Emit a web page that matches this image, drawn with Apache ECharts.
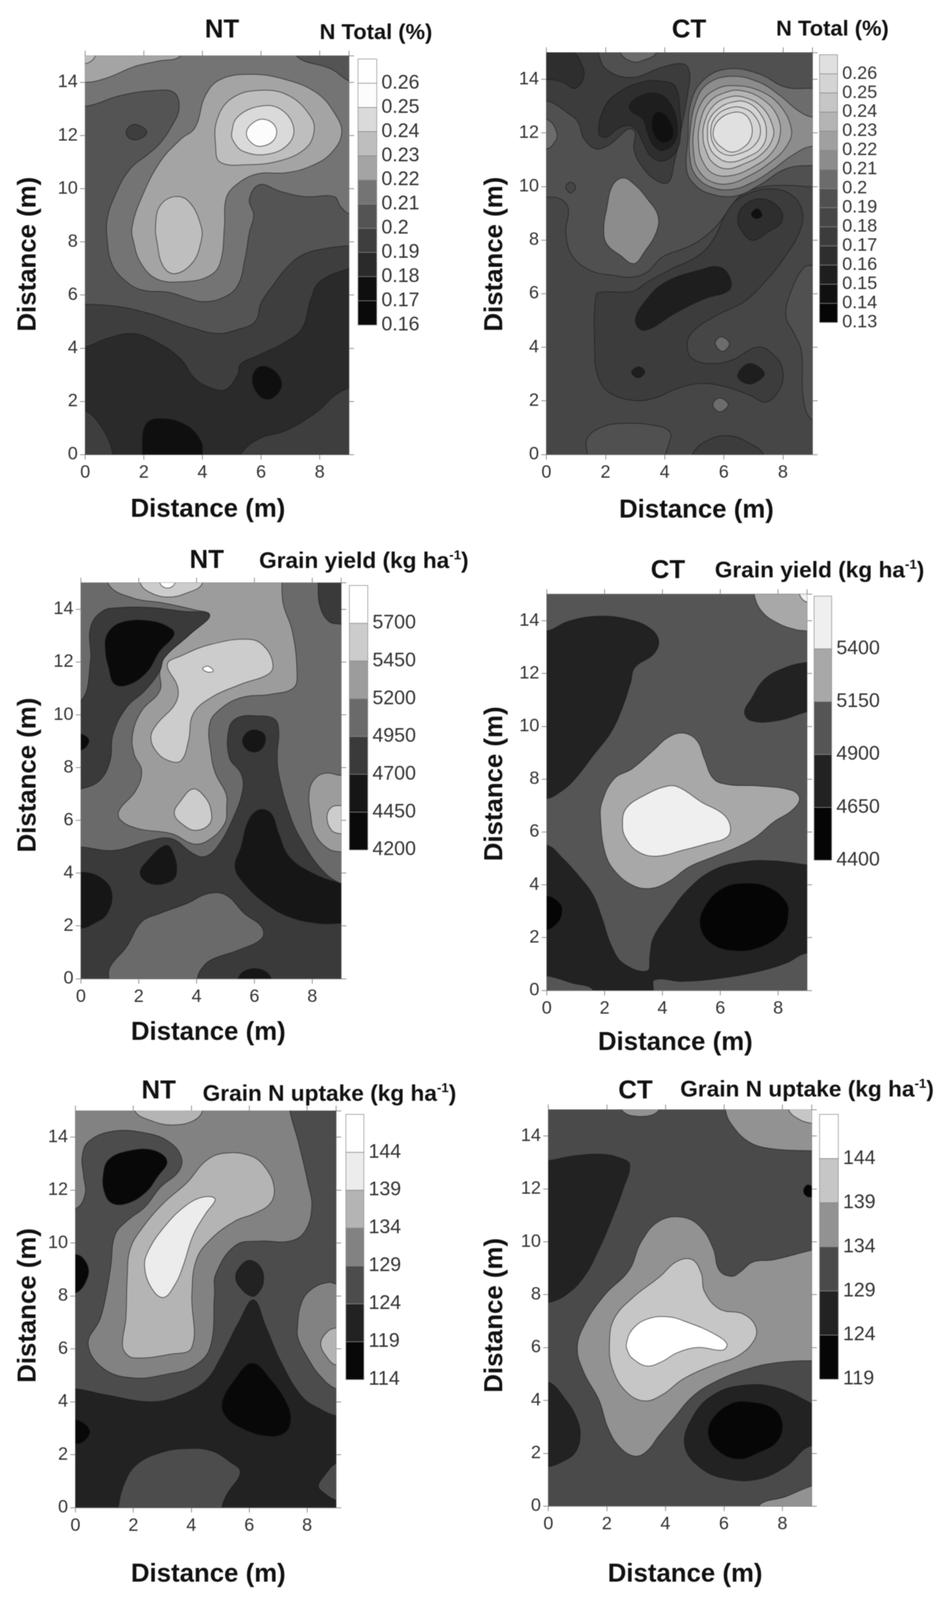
<!DOCTYPE html>
<html>
<head>
<meta charset="utf-8">
<title>Contour maps</title>
<style>
  html, body { margin: 0; padding: 0; background: #fff; overflow: hidden; }
  #chart { width: 2418px; height: 100vh; filter: blur(0.8px); }
</style>
<script src="https://cdn.jsdelivr.net/npm/echarts@6/dist/echarts.min.js"></script>
</head>
<body>
<div id="chart"></div>
<script>
// colour bar tick labels, bottom to top (the last one is the unlabelled top end)
const nTotalNtLabels = ['0.16', '0.17', '0.18', '0.19', '0.2', '0.21', '0.22', '0.23', '0.24', '0.25', '0.26', ''];
const nTotalCtLabels = ['0.13', '0.14', '0.15', '0.16', '0.17', '0.18', '0.19', '0.2', '0.21', '0.22', '0.23', '0.24', '0.25', '0.26', ''];
const yieldNtLabels = ['4200', '4450', '4700', '4950', '5200', '5450', '5700', ''];
const yieldCtLabels = ['4400', '4650', '4900', '5150', '5400', ''];
const uptakeNtLabels = ['114', '119', '124', '129', '134', '139', '144', ''];
const uptakeCtLabels = ['119', '124', '129', '134', '139', '144', ''];

// contours: [band index, outline in metres]. painted in order, later ones on top.
// outlines run past the 0-9 / 0-15 frame where the region leaves the plot
const frame = [[-2, -2], [-2, 17], [11, 17], [11, -2]];

const nTotalNtContours = [
  [4, frame],
  [5, [[-1, 13.2], [0, 13.1], [1.2, 13.5], [2.45, 13.7], [3.05, 13.6], [3.2, 13], [2.95, 12.35], [2.55, 11.7], [2.15, 11.3], [1.5, 10.7], [1, 9.7], [0.75, 8.85], [0.75, 8.1], [0.9, 7.2], [1.3, 6.6], [1.9, 6.2], [2.85, 6.1], [3.45, 5.9], [4, 5.75], [4.7, 5.9], [5.2, 6.35], [5.45, 7.35], [5.6, 8.35], [5.75, 9], [5.6, 9.6], [5.95, 10.15], [6.65, 9.9], [7.5, 9.7], [8.5, 9.7], [8.7, 9.35], [9, 9.05], [10, 8.6], [10, 16], [-1, 16]]],
  [6, [[-1, 14.1], [0, 14], [0.7, 14.15], [1.7, 14.6], [2.5, 14.8], [3.25, 15], [3.5, 16], [-1, 16]]],
  [7, [[-1, 14.7], [0, 14.7], [0.35, 15], [0.5, 16], [-1, 16]]],
  [4, [[7.2, 15], [8.4, 14.5], [9, 14.05], [10, 13.7], [10, 16], [7, 16]]],
  [3, [[1.4, 12.15], [1.6, 12.4], [1.9, 12.35], [2.1, 12.1], [1.8, 11.85], [1.5, 11.9]]],
  [6, [[1.6, 8.55], [1.9, 9.6], [2.55, 11], [3.25, 11.85], [3.75, 12.3], [4.1, 13.5], [4.6, 14.1], [5.65, 14.3], [6.85, 14.1], [7.9, 13.6], [8.5, 12.85], [8.75, 12.1], [8.4, 11.35], [7.7, 10.85], [6.85, 10.6], [5.85, 10.55], [5.1, 10.1], [4.8, 9.6], [4.75, 8.6], [4.6, 7.2], [4.2, 6.7], [3.35, 6.5], [2.45, 6.6], [1.9, 7.2], [1.65, 8]]],
  [7, [[2.4, 8.6], [2.55, 9.35], [3.05, 9.7], [3.55, 9.5], [3.95, 8.6], [3.95, 8], [3.65, 7.2], [3.05, 6.8], [2.65, 7.1], [2.45, 8]]],
  [7, [[4.45, 11.6], [4.5, 12.6], [5, 13.4], [5.95, 13.7], [6.95, 13.5], [7.7, 12.7], [7.8, 12.1], [7.5, 11.5], [6.65, 11.05], [5.5, 10.9], [4.6, 11]]],
  [8, [[5, 12.1], [5.2, 12.7], [5.95, 13.1], [6.65, 13], [7.1, 12.35], [6.95, 11.7], [6.25, 11.3], [5.4, 11.4], [5.05, 11.8]]],
  [9, [[5.5, 12.1], [5.75, 12.5], [6.15, 12.6], [6.5, 12.3], [6.45, 11.85], [6.05, 11.6], [5.7, 11.7]]],
  [3, [[-1, 5.6], [0, 5.65], [1.2, 5.55], [2.2, 5.3], [3, 5], [3.7, 4.75], [4.5, 4.55], [5.2, 4.7], [5.8, 5], [6, 5.7], [6.4, 6.35], [6.85, 7], [7.4, 7.5], [8.2, 7.75], [9, 7.85], [10, 7.9], [10, -1], [-1, -1]]],
  [2, [[-1, 4.05], [0, 4.05], [0.7, 4.35], [1.6, 4.55], [2.4, 4.25], [3.25, 3.6], [3.75, 2.85], [4.3, 2.5], [4.8, 2.45], [5.2, 3], [5.3, 3.4], [5.95, 3.75], [6.85, 4.25], [7.4, 4.75], [7.7, 5.85], [8, 6.5], [9, 7], [10, 7.3], [10, -1], [-1, -1]]],
  [3, [[-1, 1.9], [0, 1.65], [0.6, 0.95], [0.95, 0], [1, -1], [-1, -1]]],
  [3, [[5.3, 0], [5.95, 0.6], [6.85, 0.9], [7.9, 1.6], [8.5, 2.2], [9, 2.5], [10, 2.8], [10, -1], [5, -1]]],
  [1, [[5.7, 2.85], [5.95, 3.3], [6.45, 3.15], [6.7, 2.6], [6.35, 2.1], [5.95, 2.2]]],
  [1, [[1.95, -1], [1.95, 0], [2.05, 1.1], [2.55, 1.35], [3.45, 1.1], [3.95, 0.5], [4, 0], [4, -1]]]
];

const nTotalCtContours = [
  [5, frame],
  [6, [[-1, 9.6], [0, 9.6], [0.46, 9.54], [0.74, 9.17], [0.66, 8.3], [0.87, 7.43], [1.48, 6.87], [2.29, 6.68], [2.9, 6.62], [3.41, 6.81], [3.92, 7.37], [4.64, 7.68], [5.1, 7.93], [5.66, 8.42], [6.12, 9.04], [6.57, 9.66], [7.29, 9.98], [8.1, 10.04], [9, 9.98], [10, 9.9], [10, 16], [-1, 16]]],
  [4, [[-1, 13.2], [0, 13.2], [0.76, 12.71], [1.07, 12.4], [1.27, 11.78], [1.68, 11.4], [2.09, 11.53], [2.5, 11.9], [2.8, 12.15], [3, 12.02], [2.96, 11.4], [3.21, 10.78], [3.72, 10.22], [4.13, 10.16], [4.33, 10.91], [4.54, 12.02], [4.79, 13.52], [4.84, 14.26], [4.64, 14.57], [3.92, 14.45], [2.91, 14.07], [2.09, 14.32], [1.78, 14.9], [1.7, 16], [-1, 16]]],
  [7, [[2.5, 15], [2.9, 14.66], [3.31, 14.72], [3.72, 15], [3.8, 16], [2.4, 16]]],
  [3, [[1.78, 11.96], [1.89, 12.77], [2.29, 13.39], [3.21, 13.89], [4.03, 13.91], [4.38, 13.7], [4.52, 12.77], [4.54, 12.02], [4.43, 11.4], [4.03, 10.97], [3.57, 11.09], [3.26, 11.65], [3.06, 12.09], [2.8, 12.27], [2.4, 12.15], [2.04, 11.84]]],
  [2, [[2.8, 13.02], [3.21, 13.39], [3.82, 13.45], [4.23, 13.02], [4.43, 12.27], [4.33, 11.65], [3.92, 11.34], [3.62, 11.53], [3.41, 12.02], [3.26, 12.52], [2.91, 12.77]]],
  [1, [[3.57, 12.4], [3.72, 12.77], [4.03, 12.65], [4.28, 12.15], [4.23, 11.78], [3.92, 11.65], [3.67, 11.9]]],
  [3, [[-1, 14], [0, 14], [0.56, 13.89], [0.97, 13.66], [1.27, 14.14], [1.12, 14.76], [0.97, 15], [1, 16], [-1, 16]]],
  [7, [[-1, 12.4], [0, 12.5], [0.36, 11.96], [0.2, 11.53], [0, 11.4], [-1, 11.4]]],
  [7, [[4.74, 10.66], [4.79, 11.78], [4.89, 13.14], [5.35, 14.01], [6.17, 14.39], [7.19, 14.2], [8.1, 13.7], [9, 13.66], [10, 13.6], [10, 10.7], [9, 10.78], [8.1, 10.66], [7.19, 10.04], [6.37, 9.64], [5.45, 9.76], [4.94, 10.16]]],
  [8, [[4.86, 11.03], [4.86, 12.02], [5.05, 13.14], [5.45, 13.83], [6.27, 14.11], [7.19, 13.89], [7.9, 13.39], [8.51, 12.83], [9, 12.58], [10, 12.45], [10, 11.3], [9, 11.5], [8.31, 11.16], [7.7, 10.66], [6.98, 10.16], [6.27, 9.89], [5.56, 9.98], [5.05, 10.41]]],
  [9, [[4.99, 11.16], [4.99, 12.15], [5.25, 13.14], [5.76, 13.64], [6.37, 13.76], [7.19, 13.58], [7.9, 13.02], [8.29, 12.09], [8.1, 11.47], [7.59, 10.91], [6.88, 10.41], [6.17, 10.1], [5.56, 10.19], [5.15, 10.6]]],
  [10, [[5.15, 11.53], [5.2, 12.4], [5.5, 13.14], [6.01, 13.49], [6.57, 13.58], [7.29, 13.27], [7.8, 12.65], [7.9, 11.9], [7.59, 11.22], [6.98, 10.72], [6.27, 10.41], [5.66, 10.47], [5.3, 10.91]]],
  [11, [[5.3, 11.78], [5.35, 12.4], [5.66, 13.02], [6.17, 13.33], [6.68, 13.33], [7.29, 12.96], [7.65, 12.27], [7.65, 11.78], [7.29, 11.22], [6.68, 10.84], [6.07, 10.66], [5.61, 10.91], [5.4, 11.34]]],
  [12, [[5.45, 11.96], [5.5, 12.46], [5.81, 12.89], [6.27, 13.14], [6.78, 13.14], [7.24, 12.71], [7.44, 12.09], [7.29, 11.47], [6.78, 11.09], [6.17, 10.91], [5.71, 11.16], [5.5, 11.53]]],
  [12, [[5.56, 12.02], [5.71, 12.58], [6.17, 12.92], [6.68, 12.92], [7.08, 12.58], [7.24, 12.02], [7.03, 11.53], [6.52, 11.22], [6.07, 11.18], [5.71, 11.47]]],
  [13, [[5.64, 12.02], [5.81, 12.46], [6.27, 12.75], [6.68, 12.71], [6.93, 12.33], [6.93, 11.84], [6.68, 11.47], [6.27, 11.28], [5.91, 11.47], [5.71, 11.71]]],
  [4, [[1.63, 4.07], [1.68, 5.94], [1.89, 6.06], [2.91, 6.09], [3.41, 6.43], [4.13, 6.87], [5.15, 7.43], [5.66, 8.05], [6.17, 9.17], [6.68, 9.66], [7.59, 9.91], [8.31, 9.66], [8.66, 9.04], [8.56, 8.3], [8.1, 7.43], [7.49, 6.56], [6.68, 5.69], [5.76, 5.19], [4.94, 4.57], [4.76, 4.07], [4.94, 3.58], [5.56, 3.39], [6.27, 3.52], [7.19, 4.01], [7.8, 3.58], [8, 3.08], [7.9, 2.46], [7.44, 1.96], [6.88, 2.21], [6.07, 2.52], [5.25, 2.65], [4.43, 2.46], [3.62, 2.09], [2.91, 2.02], [2.09, 2.34], [1.73, 2.96]]],
  [2, [[3.01, 5.01], [3.41, 5.81], [4.03, 6.43], [5.15, 6.87], [5.86, 6.99], [6.22, 6.56], [6.17, 6.12], [5.35, 5.81], [4.43, 5.32], [3.31, 4.63]]],
  [3, [[6.47, 8.8], [6.68, 9.29], [7.29, 9.54], [7.9, 9.17], [7.95, 8.67], [7.49, 8.3], [6.98, 7.99], [6.63, 8.3]]],
  [1, [[6.93, 8.98], [7.14, 9.17], [7.29, 8.92], [7.08, 8.8]]],
  [2, [[2.88, 3.06], [3.11, 3.27], [3.33, 3.08], [3.11, 2.86]]],
  [2, [[6.47, 2.98], [6.88, 3.39], [7.37, 3.02], [6.98, 2.65], [6.63, 2.71]]],
  [7, [[5.71, 4.14], [5.91, 4.39], [6.19, 4.14], [5.96, 3.85]]],
  [7, [[5.63, 1.86], [5.86, 2.11], [6.15, 1.86], [5.86, 1.59]]],
  [6, [[9, 7.06], [8.72, 6.99], [8.31, 6.19], [8.1, 5.19], [8.41, 4.45], [8.63, 3.83], [8.69, 2.09], [9, 1.28], [10, 1], [10, 7.2]]],
  [6, [[1.38, -1], [1.38, 0], [1.38, 0.6], [1.89, 1.03], [2.6, 1.16], [3.62, 1.09], [4.18, 0.84], [4.13, 0.35], [4.03, 0], [4, -1]]],
  [4, [[4.94, 0], [5.45, 0.53], [6.17, 0.7], [6.78, 0.47], [7.34, 0], [7.5, -1], [4.8, -1]]],
  [5, [[0.66, 9.98], [0.82, 10.16], [0.99, 9.98], [0.82, 9.76]]],
  [8, [[1.94, 8.42], [2.04, 9.17], [2.24, 10.04], [2.6, 10.32], [3.01, 10.04], [3.41, 9.54], [3.77, 8.92], [3.72, 8.3], [3.31, 7.55], [2.96, 7.12], [2.5, 7.43], [2.04, 7.86]]]
];

const yieldNtContours = [
  [3, frame],
  [4, [[1.32, 6.37], [1.9, 7.13], [2.1, 7.88], [1.84, 8.51], [1.79, 9.27], [2.1, 10.15], [2.73, 10.91], [2.73, 11.66], [2.89, 12.17], [3.77, 13.05], [4.45, 13.78], [3.88, 13.99], [2.83, 14.24], [1.79, 14.43], [0.96, 14.94], [0.9, 16], [6.95, 16], [6.95, 15], [7, 14.18], [7.31, 13.17], [7.47, 11.66], [7.36, 11.03], [6.58, 10.78], [5.54, 10.65], [4.81, 10.21], [4.45, 9.65], [4.5, 8.51], [4.66, 7.76], [5.02, 7], [5.04, 6.5], [4.97, 5.87], [4.4, 5.24], [3.88, 5.11], [3.15, 5.49], [2, 5.68], [1.38, 6]]],
  [2, [[-1, 10.5], [0, 10.53], [0.33, 12.04], [0.33, 13.3], [0.75, 13.93], [1.38, 14.06], [2.42, 14.06], [3.46, 13.93], [4.45, 13.78], [3.77, 13.05], [2.89, 12.17], [2.73, 11.66], [2.21, 10.91], [1.58, 10.28], [1.11, 9.27], [1.01, 8.26], [0.65, 7.51], [0, 7.19], [-1, 7]]],
  [0, [[0.85, 12.42], [0.91, 13.05], [1.38, 13.49], [2.42, 13.55], [3.15, 13.24], [3.2, 12.98], [2.73, 12.42], [2.31, 11.66], [1.69, 11.16], [1.17, 11.16], [0.96, 11.79]]],
  [0, [[-1, 9.3], [0, 9.27], [0.28, 9.02], [0, 8.66], [-1, 8.6]]],
  [2, [[-1, 5], [0, 4.99], [1.17, 4.86], [2.42, 5.24], [3.15, 5.3], [3.88, 4.74], [4.29, 4.63], [4.71, 4.99], [5.23, 6], [5.59, 7.13], [5.54, 7.76], [5.13, 8.39], [5.13, 9.52], [5.44, 9.9], [6.06, 9.96], [6.69, 9.84], [6.84, 9.4], [6.79, 8.51], [6.84, 7.76], [7.21, 6.25], [7.63, 5.24], [8.35, 4.11], [9, 3.6], [10, 3.3], [10, -1], [-1, -1]]],
  [1, [[5.59, 9.02], [5.85, 9.4], [6.27, 9.33], [6.38, 9.02], [6.17, 8.64], [5.8, 8.64]]],
  [1, [[5.33, 4.23], [5.54, 4.99], [5.8, 6], [6.17, 6.4], [6.58, 6.25], [6.84, 5.49], [7.21, 4.61], [8.04, 3.98], [9, 3.6], [10, 3.3], [10, 2], [9, 2.09], [8.25, 2.09], [7.21, 2.34], [6.38, 2.85], [5.65, 3.6]]],
  [1, [[2.05, 3.98], [2.31, 4.48], [2.94, 5.05], [3.2, 4.74], [3.3, 3.98], [3.04, 3.66], [2.42, 3.6]]],
  [1, [[-1, 4], [0, 4.04], [0.65, 3.85], [1.06, 3.29], [0.91, 2.47], [0.44, 2.09], [0, 1.9], [-1, 1.9]]],
  [1, [[5.4, -1], [5.44, 0], [5.75, 0.33], [6.27, 0.33], [6.58, 0], [6.7, -1]]],
  [3, [[1, -1], [0.96, 0], [1.01, 0.45], [1.58, 1.21], [2.1, 2.15], [2.73, 2.47], [3.67, 2.85], [4.4, 3.22], [5.02, 3.16], [5.65, 2.47], [6.25, 1.96], [6.25, 1.52], [5.44, 1.08], [4.5, 0.71], [4.14, 0.33], [4.03, 0], [4, -1]]],
  [2, [[8.12, 16], [8.2, 15], [8.25, 14.18], [8.56, 13.55], [9, 13.43], [10, 13.3], [10, 16]]],
  [5, [[2.05, 15], [2.42, 14.62], [3.04, 14.46], [3.67, 14.62], [4.19, 14.96], [4.3, 16], [2, 16]]],
  [6, [[2.73, 15], [3, 14.8], [3.25, 15], [3.3, 16], [2.7, 16]]],
  [4, [[7.89, 7], [8.04, 7.51], [8.41, 7.78], [9, 7.7], [10, 7.6], [10, 4.7], [9, 4.8], [8.56, 4.92], [8.09, 5.49], [7.94, 6.25]]],
  [5, [[8.51, 6.12], [8.67, 6.5], [9, 6.56], [10, 6.6], [10, 5.4], [9, 5.49], [8.67, 5.62]]],
  [5, [[2.42, 9.14], [2.63, 9.65], [3.25, 10.4], [3.35, 11.03], [2.99, 11.91], [3.46, 12.23], [4.5, 12.67], [5.85, 12.86], [6.38, 12.54], [6.64, 11.91], [6.48, 11.54], [5.54, 11.16], [4.5, 10.65], [3.88, 10.03], [3.72, 9.02], [3.46, 8.26], [3.04, 8.26], [2.63, 8.58]]],
  [6, [[4.21, 11.75], [4.4, 11.84], [4.58, 11.66], [4.38, 11.62]]],
  [5, [[3.23, 6.25], [3.46, 6.75], [3.88, 7.19], [4.29, 6.88], [4.5, 6.37], [4.45, 5.87], [3.98, 5.62], [3.56, 5.81]]]
];

const yieldCtContours = [
  [2, frame],
  [1, [[-1, 13.6], [0, 13.61], [0.76, 13.98], [1.8, 14.17], [2.85, 14.04], [3.58, 13.7], [3.87, 13.23], [3.69, 12.73], [3.05, 12.23], [2.9, 11.66], [2.64, 10.78], [2.22, 9.77], [1.6, 8.89], [0.97, 8], [0.45, 7.5], [0, 7.26], [-1, 7.2]]],
  [1, [[9, 12.42], [8.27, 12.23], [7.54, 11.79], [7.07, 11.03], [6.84, 10.53], [7.07, 10.21], [7.96, 10.21], [9, 10.55], [10, 10.8], [10, 12.5]]],
  [1, [[-1, 5.5], [0, 5.5], [0.55, 5], [1.18, 4.24], [1.6, 3.61], [1.91, 2.74], [2.22, 1.73], [2.64, 1.03], [3.47, 0.74], [3.57, 1.35], [3.68, 1.98], [4.2, 2.86], [4.93, 3.87], [5.77, 4.56], [6.81, 4.87], [7.85, 4.9], [9, 4.75], [10, 4.6], [10, 1.3], [9, 1.41], [8.27, 1.03], [7.33, 0.72], [6.08, 0.47], [4.72, 0.34], [3.73, 0.4], [3.68, 0], [3.6, -1], [1.5, -1], [1.6, 0], [0.87, 0.28], [0, 0.55], [-1, 0.6]]],
  [0, [[5.3, 2.48], [5.5, 3.23], [6.08, 3.86], [6.81, 4.05], [7.64, 3.92], [8.27, 3.36], [8.35, 2.86], [8.17, 2.23], [7.44, 1.66], [6.5, 1.5], [5.67, 1.79]]],
  [0, [[-1, 3.5], [0, 3.58], [0.45, 3.3], [0.53, 2.98], [0.4, 2.6], [0, 2.29], [-1, 2.2]]],
  [3, [[7.17, 15], [7.43, 14.36], [7.96, 13.92], [8.58, 13.67], [9, 13.61], [10, 13.5], [10, 16], [7.1, 16]]],
  [4, [[8.74, 15], [9, 14.7], [10, 14.5], [10, 16], [8.7, 16]]],
  [3, [[1.86, 6.5], [1.91, 7.13], [2.33, 8.01], [2.95, 8.39], [3.68, 9.08], [4.2, 9.58], [4.72, 9.74], [5.19, 9.46], [5.45, 8.77], [5.77, 8.01], [6.29, 7.79], [7.33, 7.74], [8.48, 7.57], [8.74, 7.26], [8.48, 6.82], [7.85, 6.38], [7.23, 5.81], [6.6, 5.43], [5.77, 5.06], [4.93, 4.68], [4.2, 4.11], [3.58, 3.86], [2.95, 3.99], [2.33, 4.55], [2.01, 5.25]]],
  [4, [[2.62, 6.25], [2.74, 6.88], [3.37, 7.38], [4.2, 7.74], [4.62, 7.66], [5.35, 7.13], [6.08, 6.69], [6.34, 6.25], [6.24, 5.81], [5.56, 5.56], [4.72, 5.31], [3.79, 5.08], [3.16, 5.25], [2.74, 5.75]]]
];

const uptakeNtContours = [
  [2, frame],
  [3, [[-1, 11.3], [0, 11.3], [0.33, 11.83], [0.28, 12.56], [0.23, 13.23], [0.44, 13.82], [1.27, 14.22], [2.41, 14.16], [3.24, 13.82], [3.66, 13.23], [3.56, 12.7], [2.93, 12.1], [2.41, 11.37], [1.79, 10.84], [1.37, 10.31], [1.22, 9.11], [1.06, 8.05], [0.85, 7.12], [0.44, 6.19], [0.96, 5.26], [2, 4.9], [3.24, 5.06], [4.07, 5.33], [4.65, 6.06], [4.8, 8.05], [4.85, 8.84], [5.53, 9.91], [6.36, 10.07], [7.4, 10.07], [7.92, 10.44], [8.16, 11.37], [8.02, 12.3], [7.71, 13.76], [7.4, 15], [7.3, 16], [-1, 16]]],
  [4, [[1.63, 6.32], [1.74, 7.12], [1.79, 8.71], [1.89, 9.77], [2.31, 10.57], [3.04, 11.5], [3.87, 12.3], [4.49, 13.09], [5.11, 13.39], [6.05, 13.29], [6.57, 12.83], [6.86, 12.1], [6.73, 11.5], [6.15, 11.1], [5.53, 10.84], [4.7, 10.17], [4.18, 9.38], [4.02, 8.05], [4.02, 6.06], [3.24, 5.79], [2, 5.66], [1.68, 5.92]]],
  [5, [[2.39, 9.11], [2.52, 9.71], [3.04, 10.57], [3.76, 11.37], [4.39, 11.73], [4.82, 11.66], [4.49, 11.1], [4.07, 10.31], [3.71, 9.11], [3.45, 8.45], [3.04, 7.94], [2.62, 8.31]]],
  [0, [[0.96, 12.56], [1.16, 13.16], [1.89, 13.49], [2.72, 13.49], [3.16, 13.09], [2.83, 12.5], [2.41, 11.9], [1.79, 11.5], [1.27, 11.5], [1.01, 11.9]]],
  [4, [[2.05, 15], [2.62, 14.62], [3.35, 14.46], [4.07, 14.62], [4.39, 15], [4.5, 16], [2, 16]]],
  [0, [[-1, 9.4], [0, 9.57], [0.38, 9.24], [0.42, 8.71], [0, 8.11], [-1, 8.1]]],
  [1, [[-1, 4.5], [0, 4.49], [1.06, 4.26], [2.62, 4], [3.66, 4.26], [4.49, 4.79], [5.01, 5.66], [5.63, 6.99], [6.15, 7.85], [6.57, 6.85], [7.09, 5.52], [7.82, 4.2], [8.44, 3.73], [9, 3.47], [10, 3.3], [10, -1], [-1, -1]]],
  [1, [[5.53, 8.71], [5.74, 9.18], [6.05, 9.34], [6.41, 9.05], [6.49, 8.52], [6.31, 8.11], [6.1, 7.98], [5.74, 8.25]]],
  [0, [[5.06, 3.93], [5.43, 4.73], [6.1, 5.46], [6.78, 4.79], [7.3, 3.93], [7.43, 3.27], [7.19, 2.8], [6.57, 2.71], [5.74, 3], [5.22, 3.4]]],
  [0, [[-1, 3.4], [0, 3.33], [0.49, 2.93], [0.33, 2.54], [0, 2.4], [-1, 2.4]]],
  [2, [[1.48, 0], [1.68, 0.88], [2.1, 1.61], [2.93, 2.07], [3.87, 2.23], [4.7, 2.14], [5.32, 1.74], [5.69, 1.34], [5.22, 0.48], [5.06, 0], [5, -1], [1.4, -1]]],
  [2, [[9, 1.67], [8.6, 1.21], [8.39, 0.81], [8.6, 0.54], [9, 0.28], [10, 0], [10, 2]]],
  [3, [[7.66, 6.72], [7.82, 7.78], [8.23, 8.31], [8.75, 8.51], [9, 8.45], [10, 8.3], [10, 4.3], [9, 4.49], [8.44, 4.99], [8.02, 5.66], [7.71, 6.32]]],
  [4, [[8.47, 6.19], [8.7, 6.65], [9, 6.79], [10, 6.9], [10, 5.3], [9, 5.39], [8.7, 5.66]]]
];

const uptakeCtContours = [
  [2, frame],
  [1, [[-1, 13], [0, 13.07], [0.8, 13.24], [1.83, 13.31], [2.45, 13.17], [2.78, 12.91], [2.55, 11.98], [2.24, 11.05], [1.73, 9.72], [1.21, 8.66], [0.6, 7.99], [0, 7.7], [-1, 7.6]]],
  [1, [[-1, 4.8], [0, 4.7], [0.6, 4.01], [0.96, 3.35], [1.09, 2.68], [0.91, 2.02], [0.49, 1.69], [0, 1.49], [-1, 1.4]]],
  [3, [[0.99, 6], [1.27, 6.93], [1.93, 7.99], [2.76, 8.92], [3.17, 9.99], [3.79, 10.78], [4.61, 10.92], [5.23, 10.52], [5.64, 9.72], [5.84, 8.92], [6.26, 8.69], [6.56, 8.86], [6.98, 9.23], [7.7, 9.32], [9, 9.68], [10, 9.9], [10, 5.4], [9, 5.5], [7.7, 5.41], [6.67, 5.14], [5.64, 4.67], [4.92, 4.14], [4.3, 3.35], [3.79, 2.68], [3.37, 2.08], [2.96, 1.89], [2.45, 2.22], [2.04, 2.95], [1.73, 4.01], [1.21, 5.07]]],
  [4, [[2.09, 6.14], [2.24, 7.07], [2.86, 7.86], [3.79, 8.66], [4.4, 9.26], [4.92, 9.32], [5.23, 8.79], [5.33, 8.13], [5.84, 7.46], [6.67, 7.26], [7.08, 6.8], [7.03, 6.27], [6.46, 5.67], [5.64, 5.34], [4.61, 4.81], [3.89, 4.21], [3.27, 3.98], [2.65, 4.34], [2.19, 5.21]]],
  [5, [[2.67, 6.14], [2.86, 6.67], [3.37, 7.07], [4.09, 7.16], [4.81, 6.93], [5.64, 6.53], [6.1, 6.14], [5.95, 5.9], [5.12, 6], [4.4, 5.8], [3.89, 5.47], [3.37, 5.3], [2.86, 5.6], [2.71, 5.87]]],
  [1, [[4.66, 2.28], [4.92, 3.35], [5.64, 4.21], [6.67, 4.57], [7.8, 4.48], [9, 3.88], [10, 3.3], [10, 1.9], [9, 2.28], [8.11, 1.49], [7.18, 1.02], [6.15, 1.02], [5.23, 1.42]]],
  [0, [[5.46, 2.75], [5.64, 3.35], [6.26, 3.88], [6.87, 3.94], [7.7, 3.68], [8, 3.08], [7.8, 2.42], [7.18, 2.02], [6.46, 1.78], [5.74, 2.15]]],
  [3, [[6.05, 15], [6.26, 14.44], [6.87, 13.77], [7.7, 13.51], [9, 13.44], [10, 13.4], [10, 16], [6, 16]]],
  [4, [[8.21, 15], [8.57, 14.63], [9, 14.48], [10, 14.3], [10, 16], [8.1, 16]]],
  [3, [[2.5, 15], [3.17, 14.74], [3.79, 15], [3.9, 16], [2.4, 16]]],
  [0, [[8.72, 11.91], [8.83, 12.14], [9, 12.12], [10, 12], [9, 11.7], [8.83, 11.72]]],
  [3, [[7.18, 0], [8.11, 0.36], [9, 0.76], [10, 1], [10, -1], [7, -1]]]
];

// grey of each band, bottom to top
const nTotalNtGreys = ['#0a0a0a', '#0f0f0f', '#2a2a2a', '#3e3e3e', '#545454', '#747474', '#a4a4a4', '#bebebe', '#dadada', '#fcfcfc', '#ffffff'];
const nTotalCtGreys = ['#060606', '#101010', '#1e1e1e', '#2e2e2e', '#3c3c3c', '#464646', '#505050', '#6c6c6c', '#8c8c8c', '#a0a0a0', '#b4b4b4', '#c6c6c6', '#d4d4d4', '#e0e0e0'];
const yieldNtGreys = ['#0a0a0a', '#161616', '#3a3a3a', '#6a6a6a', '#9c9c9c', '#cccccc', '#ffffff'];
const yieldCtGreys = ['#050505', '#222222', '#555555', '#a8a8a8', '#efefef'];
const uptakeNtGreys = ['#080808', '#222222', '#4c4c4c', '#828282', '#b4b4b4', '#ececec', '#ffffff'];
const uptakeCtGreys = ['#060606', '#222222', '#4a4a4a', '#929292', '#c6c6c6', '#ffffff'];

// pixel layout of the six panels in the 2418x4362 reference: plot box, colour bar box, text centres
const panels = [
  { name: 'NT', unit: ['N Total (%)'], labels: nTotalNtLabels, contours: nTotalNtContours, greys: nTotalNtGreys, barFont: 50,
    plot: [218, 152, 675, 1087], bar: [916, 161, 48, 725], nameAt: [568, 83], unitAt: [962, 90], xAt: [532, 1390], yAt: [73, 693] },
  { name: 'CT', unit: ['N Total (%)'], labels: nTotalCtLabels, contours: nTotalCtContours, greys: nTotalCtGreys, barFont: 46,
    plot: [1398, 143, 681, 1096], bar: [2097, 149, 46, 730], nameAt: [1763, 83], unitAt: [2130, 80], xAt: [1782, 1392], yAt: [1267, 693] },
  { name: 'NT', unit: ['Grain yield (kg ha', ')'], labels: yieldNtLabels, contours: yieldNtContours, greys: yieldNtGreys, barFont: 50,
    plot: [207, 1589, 666, 1079], bar: [894, 1596, 47, 721], nameAt: [529, 1529], unitAt: [931, 1531], xAt: [533, 2815], yAt: [73, 2113] },
  { name: 'CT', unit: ['Grain yield (kg ha', ')'], labels: yieldCtLabels, contours: yieldCtContours, greys: yieldCtGreys, barFont: 50,
    plot: [1399, 1620, 666, 1080], bar: [2083, 1625, 45, 720], nameAt: [1709, 1557], unitAt: [2097, 1557], xAt: [1728, 2843], yAt: [1267, 2137] },
  { name: 'NT', unit: ['Grain N uptake (kg ha', ')'], labels: uptakeNtLabels, contours: uptakeNtContours, greys: uptakeNtGreys, barFont: 50,
    plot: [193, 3028, 667, 1082], bar: [885, 3038, 46, 723], nameAt: [406, 2975], unitAt: [843, 2984], xAt: [533, 4293], yAt: [73, 3559] },
  { name: 'CT', unit: ['Grain N uptake (kg ha', ')'], labels: uptakeCtLabels, contours: uptakeCtContours, greys: uptakeCtGreys, barFont: 50,
    plot: [1403, 3025, 674, 1081], bar: [2097, 3038, 48, 722], nameAt: [1626, 2975], unitAt: [2065, 2972], xAt: [1753, 4293], yAt: [1267, 3586] }
];

// the window can be shorter than the page, so the rows are fitted to its height
const sy = Math.min(1, window.innerHeight / 4362);
const font = 'Liberation Sans';
const grids = [], xAxes = [], yAxes = [], series = [], texts = [];

function label(text, at, size, rotation) {
  return {
    type: 'text', x: at[0], y: at[1] * sy, rotation: rotation || 0, silent: true,
    style: { text: text, fontFamily: font, fontSize: size, fontWeight: 'bold', fill: '#111',
      align: 'center', verticalAlign: 'middle', textAlign: 'center', textVerticalAlign: 'middle' }
  };
}

// unit text, with the -1 exponent raised when there is one
function unitLabel(parts, at) {
  if (parts.length === 1) return label(parts[0], at, 56);
  const el = label('{a|' + parts[0] + '}{b|-1}{a|' + parts[1] + '}', at, 58);
  el.style.rich = {
    a: { fontFamily: font, fontSize: 58, fontWeight: 'bold', fill: '#111', lineHeight: 64 },
    b: { fontFamily: font, fontSize: 34, fontWeight: 'bold', fill: '#111', verticalAlign: 'top', lineHeight: 40 }
  };
  return el;
}

function frameAxis(base, gridIndex, position) {
  return Object.assign({
    type: 'value', gridIndex: gridIndex, position: position, splitLine: { show: false },
    axisLine: { onZero: false, lineStyle: { color: '#8a8a8a', width: 2 } },
    axisTick: { length: 13, lineStyle: { color: '#8a8a8a', width: 2 } },
    axisLabel: { show: false }
  }, base);
}

panels.forEach(function (p) {
  const plotIndex = grids.length;
  grids.push({ left: p.plot[0], top: p.plot[1] * sy, width: p.plot[2], height: p.plot[3] * sy });
  const xRange = { min: 0, max: 9, interval: 2 };
  const yRange = { min: 0, max: 15, interval: 2 };
  const tickText = { show: true, fontFamily: font, fontSize: 46, color: '#333', margin: 24, showMaxLabel: false };
  const xIndex = xAxes.length, yIndex = yAxes.length;
  xAxes.push(frameAxis(Object.assign({ axisLabel: tickText }, xRange), plotIndex, 'bottom'));
  yAxes.push(frameAxis(Object.assign({ axisLabel: Object.assign({}, tickText, { margin: 19 }) }, yRange), plotIndex, 'left'));
  xAxes.push(frameAxis(xRange, plotIndex, 'top'));
  yAxes.push(frameAxis(yRange, plotIndex, 'right'));

  series.push({
    type: 'custom', coordinateSystem: 'cartesian2d', xAxisIndex: xIndex, yAxisIndex: yIndex,
    clip: true, silent: true, animation: false,
    data: p.contours.map(function (c, i) { return [i, c[0]]; }),
    renderItem: function (params, api) {
      const c = p.contours[params.dataIndex];
      const isFrame = c[1] === frame;
      return {
        type: 'polygon',
        shape: { points: c[1].map(function (pt) { return api.coord(pt); }), smooth: isFrame ? 0 : 0.4 },
        style: { fill: p.greys[c[0]], stroke: isFrame ? null : 'rgba(25,25,25,0.65)', lineWidth: 2 }
      };
    }
  });

  // colour bar in its own little grid, band index on the axis
  const barIndex = grids.length;
  const bands = p.labels.length - 1;
  grids.push({ left: p.bar[0], top: p.bar[1] * sy, width: p.bar[2], height: p.bar[3] * sy });
  const barX = xAxes.length, barY = yAxes.length;
  xAxes.push({ type: 'value', gridIndex: barIndex, min: 0, max: 1, show: false });
  yAxes.push({
    type: 'value', gridIndex: barIndex, position: 'right', min: 0, max: bands, interval: 1,
    splitLine: { show: false }, axisLine: { show: false }, axisTick: { show: false },
    axisLabel: { fontFamily: font, fontSize: p.barFont, color: '#333', margin: 12, hideOverlap: false,
      showMinLabel: true, showMaxLabel: true,
      formatter: function (v) { return p.labels[v]; } }
  });
  series.push({
    type: 'custom', coordinateSystem: 'cartesian2d', xAxisIndex: barX, yAxisIndex: barY,
    silent: true, animation: false,
    data: p.greys.map(function (g, i) { return [0, i]; }),
    renderItem: function (params, api) {
      const i = params.dataIndex;
      const a = api.coord([0, i + 1]), b = api.coord([1, i]);
      return {
        type: 'rect',
        shape: { x: a[0], y: a[1], width: b[0] - a[0], height: b[1] - a[1] },
        style: { fill: p.greys[i], stroke: '#8a8a8a', lineWidth: 1.5 }
      };
    }
  });

  texts.push(label(p.name, p.nameAt, 66));
  texts.push(unitLabel(p.unit, p.unitAt));
  texts.push(label('Distance (m)', p.xAt, 66));
  texts.push(label('Distance (m)', p.yAt, 66, Math.PI / 2));
});

const chart = echarts.init(document.getElementById('chart'), null, { renderer: 'canvas' });
chart.setOption({
  backgroundColor: '#fff',
  animation: false,
  textStyle: { fontFamily: font },
  grid: grids,
  xAxis: xAxes,
  yAxis: yAxes,
  series: series,
  graphic: { elements: texts }
});
</script>
</body>
</html>
